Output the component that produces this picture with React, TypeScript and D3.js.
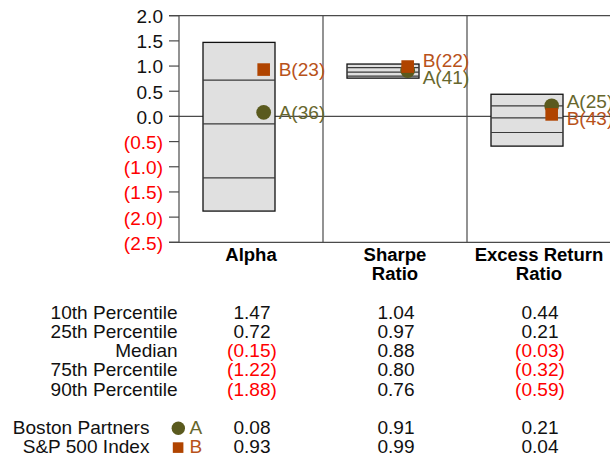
import React from "react";
import * as d3 from "d3";

const categories = ["Alpha", "Sharpe Ratio", "Excess Return Ratio"];
const categoryLines = [["Alpha"], ["Sharpe", "Ratio"], ["Excess Return", "Ratio"]];
const p10 = [1.47, 1.04, 0.44];
const p25 = [0.72, 0.97, 0.21];
const median = [-0.15, 0.88, -0.03];
const p75 = [-1.22, 0.8, -0.32];
const p90 = [-1.88, 0.76, -0.59];
const seriesA = [0.08, 0.91, 0.21];
const rankA = [36, 41, 25];
const seriesB = [0.93, 0.99, 0.04];
const rankB = [23, 22, 43];
const yTicks = [2.0, 1.5, 1.0, 0.5, 0.0, -0.5, -1.0, -1.5, -2.0, -2.5];
const rowLabels = ["10th Percentile", "25th Percentile", "Median", "75th Percentile", "90th Percentile"];
const rowValues = [p10, p25, median, p75, p90];
const legendNames = ["Boston Partners", "S&P 500 Index"];

const W = 610;
const H = 455;
const COL_A = "#5a5a1e";
const COL_A_TXT = "#67672d";
const COL_B = "#b04400";
const COL_B_TXT = "#b8521a";
const RED = "#ff0000";
const FONT = "'Liberation Sans', Arial, sans-serif";
const SX = 1.06;

const f2 = d3.format(".2f");
const f1 = d3.format(".1f");
const fmt2 = (v: number) => (v < 0 ? `(${f2(-v)})` : f2(v));
const fmt1 = (v: number) => (v < 0 ? `(${f1(-v)})` : f1(v));

function T(props: any) {
  const { x, y, anchor = "start", children, ...rest } = props;
  return (
    <text
      transform={`translate(${x},${y}) scale(${SX},1)`}
      textAnchor={anchor}
      fontFamily={FONT}
      fontSize={18}
      {...rest}
    >
      {children}
    </text>
  );
}

export default function App() {
  const y = d3.scaleLinear().domain([-2.5, 2]).range([242.3, 15.7]);
  const x = d3.scaleBand<string>().domain(categories).range([179, 611]);
  const bw = x.bandwidth();
  const axisLeft = 179;
  const tickLeft = 169;
  const lineCol = "#4a4a4a";

  const rowY0 = 319;
  const rowStep = 19.15;
  const legendY = [434.3, 453.3];

  return (
    <svg
      width={W}
      height={H}
      style={{ position: "absolute", left: 0, top: 0, background: "#fff" }}
    >
      {/* zero line */}
      <line x1={tickLeft} x2={W} y1={y(0)} y2={y(0)} stroke={lineCol} strokeWidth={1.2} />

      {/* boxes */}
      {categories.map((c, i) => {
        const x0 = x(c)!;
        const bx = x0 + bw / 6;
        const bwid = bw / 2;
        return (
          <g key={c}>
            <rect
              x={bx}
              y={y(p10[i])}
              width={bwid}
              height={y(p90[i]) - y(p10[i])}
              fill="#e0e0e0"
              stroke="#111"
              strokeWidth={1.3}
            />
            {[p25[i], median[i], p75[i]].map((v, j) => (
              <line
                key={j}
                x1={bx}
                x2={bx + bwid}
                y1={y(v)}
                y2={y(v)}
                stroke="#3a3a3a"
                strokeWidth={1.2}
              />
            ))}
          </g>
        );
      })}

      {/* frame */}
      <line x1={tickLeft} x2={W} y1={y(2)} y2={y(2)} stroke={lineCol} strokeWidth={1.2} />
      <line x1={tickLeft} x2={W} y1={y(-2.5)} y2={y(-2.5)} stroke={lineCol} strokeWidth={1.2} />
      <line x1={axisLeft} x2={axisLeft} y1={y(2)} y2={y(-2.5)} stroke={lineCol} strokeWidth={1.2} />
      {categories.slice(1).map((c) => (
        <line
          key={c}
          x1={x(c)!}
          x2={x(c)!}
          y1={y(2)}
          y2={y(-2.5)}
          stroke={lineCol}
          strokeWidth={1.2}
        />
      ))}

      {/* y ticks */}
      {yTicks.map((t) => (
        <g key={t}>
          <line x1={tickLeft} x2={axisLeft} y1={y(t)} y2={y(t)} stroke={lineCol} strokeWidth={1.2} />
          <T x={163} y={y(t) + 7.4} anchor="end" fill={t < 0 ? RED : "#111"}>
            {fmt1(t)}
          </T>
        </g>
      ))}

      {/* markers and labels */}
      {categories.map((c, i) => {
        const x0 = x(c)!;
        const mx = x0 + bw * 0.588;
        const lx = x0 + bw * 0.692;
        let ya = y(seriesA[i]);
        let yb = y(seriesB[i]);
        let la = ya;
        let lb = yb;
        if (Math.abs(ya - yb) < 17) {
          const mid = (ya + yb) / 2;
          if (seriesA[i] >= seriesB[i]) {
            la = mid - 8.5;
            lb = mid + 8.5;
          } else {
            lb = mid - 8.5;
            la = mid + 8.5;
          }
        }
        return (
          <g key={c}>
            <circle cx={mx} cy={ya} r={7.4} fill={COL_A} />
            <rect x={mx - 6.3} y={yb - 6.3} width={12.6} height={12.6} fill={COL_B} />
            <T x={lx} y={la + 6.6} fill={COL_A_TXT}>{`A(${rankA[i]})`}</T>
            <T x={lx} y={lb + 6.6} fill={COL_B_TXT}>{`B(${rankB[i]})`}</T>
          </g>
        );
      })}

      {/* category labels */}
      {categories.map((c, i) => {
        const cx = x(c)! + bw / 2;
        return (
          <g key={c}>
            {categoryLines[i].map((ln, k) => (
              <T key={k} x={cx} y={260.8 + k * 18.8} anchor="middle" fontWeight="bold" fontSize={17.5} fill="#000">
                {ln}
              </T>
            ))}
          </g>
        );
      })}

      {/* table rows */}
      {rowLabels.map((lab, r) => {
        const yy = rowY0 + r * rowStep;
        return (
          <g key={lab}>
            <T x={177.7} y={yy} anchor="end" fill="#111">{lab}</T>
            {categories.map((c, i) => {
              const v = rowValues[r][i];
              return (
                <T key={c} x={x(c)! + bw / 2 + 1} y={yy} anchor="middle" fill={v < 0 ? RED : "#111"}>
                  {fmt2(v)}
                </T>
              );
            })}
          </g>
        );
      })}

      {/* legend rows */}
      {legendNames.map((name, r) => {
        const yy = legendY[r];
        const vals = r === 0 ? seriesA : seriesB;
        return (
          <g key={name}>
            <T x={149.5} y={yy} anchor="end" fill="#111">{name}</T>
            {r === 0 ? (
              <circle cx={178.3} cy={yy - 6} r={6.7} fill={COL_A} />
            ) : (
              <rect x={172.8} y={yy - 11} width={10.6} height={10.6} fill={COL_B} />
            )}
            <T x={189.5} y={yy} fill={r === 0 ? COL_A_TXT : COL_B_TXT}>{r === 0 ? "A" : "B"}</T>
            {categories.map((c, i) => (
              <T key={c} x={x(c)! + bw / 2 + 1} y={yy} anchor="middle" fill={vals[i] < 0 ? RED : "#111"}>
                {fmt2(vals[i])}
              </T>
            ))}
          </g>
        );
      })}
    </svg>
  );
}
